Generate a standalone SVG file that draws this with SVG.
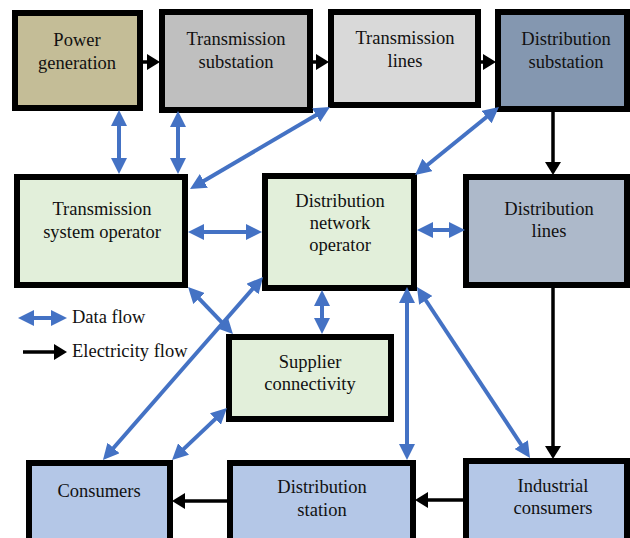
<svg xmlns="http://www.w3.org/2000/svg" width="630" height="538" viewBox="0 0 630 538">
<style>
.box{stroke:#000;stroke-width:6}
.t{font-family:"Liberation Serif","Times New Roman","DejaVu Serif",serif;font-size:18.5px;fill:#111;text-anchor:middle}
.lg{font-family:"Liberation Serif","Times New Roman","DejaVu Serif",serif;font-size:18.5px;fill:#111}
.data{stroke:#4472C4;stroke-width:4;fill:none;marker-start:url(#bh);marker-end:url(#bh)}
.elec{stroke:#000;stroke-width:3.5;fill:none;marker-end:url(#kh)}
</style>
<defs>
<marker id="bh" markerUnits="userSpaceOnUse" markerWidth="16" markerHeight="16" viewBox="0 0 16 16" refX="10" refY="8" orient="auto-start-reverse">
<path d="M0,0 L16,8 L0,16 z" fill="#4472C4"/>
</marker>
<marker id="kh" markerUnits="userSpaceOnUse" markerWidth="13" markerHeight="16" viewBox="0 0 13 16" refX="8" refY="8" orient="auto">
<path d="M0,0 L13,8 L0,16 z" fill="#000"/>
</marker>
</defs>
<rect width="630" height="538" fill="#fff"/>
<g id="power-generation"><rect class="box" x="15" y="13" width="125" height="95" fill="#C4BD97"/><text class="t" x="77" y="46">Power</text><text class="t" x="77" y="69">generation</text></g>
<g id="transmission-substation"><rect class="box" x="162" y="12" width="148" height="98" fill="#BFBFBF"/><text class="t" x="236" y="45">Transmission</text><text class="t" x="236" y="68">substation</text></g>
<g id="transmission-lines"><rect class="box" x="331" y="12" width="147" height="93" fill="#D9D9D9"/><text class="t" x="405" y="44">Transmission</text><text class="t" x="405" y="67">lines</text></g>
<g id="distribution-substation"><rect class="box" x="498" y="12" width="129" height="97" fill="#8497B0"/><text class="t" x="566" y="45">Distribution</text><text class="t" x="566" y="68">substation</text></g>
<g id="tso"><rect class="box" x="17" y="177" width="168" height="108" fill="#E2EFDA"/><text class="t" x="102" y="215">Transmission</text><text class="t" x="102" y="238">system operator</text></g>
<g id="dno"><rect class="box" x="265" y="176" width="149" height="112" fill="#E2EFDA"/><text class="t" x="340" y="207">Distribution</text><text class="t" x="340" y="229">network</text><text class="t" x="340" y="251">operator</text></g>
<g id="distribution-lines"><rect class="box" x="466" y="177" width="161" height="108" fill="#ADB9CA"/><text class="t" x="549" y="215">Distribution</text><text class="t" x="549" y="237">lines</text></g>
<g id="supplier-connectivity"><rect class="box" x="229" y="337" width="162" height="82" fill="#E2EFDA"/><text class="t" x="310" y="368">Supplier</text><text class="t" x="310" y="390">connectivity</text></g>
<g id="consumers"><rect class="box" x="29" y="463" width="141" height="85" fill="#B4C7E7"/><text class="t" x="99" y="497">Consumers</text></g>
<g id="distribution-station"><rect class="box" x="230" y="463" width="183" height="85" fill="#B4C7E7"/><text class="t" x="322" y="493">Distribution</text><text class="t" x="322" y="516">station</text></g>
<g id="industrial-consumers"><rect class="box" x="466" y="461" width="161" height="87" fill="#B4C7E7"/><text class="t" x="553" y="492">Industrial</text><text class="t" x="553" y="514">consumers</text></g>
<g id="connectors">
<line class="data" x1="119" y1="116" x2="119" y2="168"/>
<line class="data" x1="178" y1="117" x2="178" y2="168"/>
<line class="data" x1="324.8" y1="110" x2="195.2" y2="186"/>
<line class="data" x1="494.3" y1="110.8" x2="419.7" y2="171.2"/>
<line class="data" x1="194" y1="232" x2="256" y2="232"/>
<line class="data" x1="423" y1="230" x2="459" y2="230"/>
<line class="data" x1="192.2" y1="291.3" x2="228.8" y2="329.7"/>
<line class="data" x1="259.1" y1="281.5" x2="106.9" y2="455.5"/>
<line class="data" x1="322" y1="296" x2="322" y2="328"/>
<line class="data" x1="222.6" y1="412.1" x2="176.4" y2="455.9"/>
<line class="data" x1="407" y1="293" x2="407" y2="454"/>
<line class="data" x1="420.3" y1="292" x2="526.7" y2="453"/>
<line class="elec" x1="143" y1="62" x2="155" y2="62"/>
<line class="elec" x1="313" y1="62" x2="324" y2="62"/>
<line class="elec" x1="481" y1="62" x2="491" y2="62"/>
<line class="elec" x1="553" y1="112" x2="553" y2="170"/>
<line class="elec" x1="553" y1="288" x2="553" y2="454"/>
<line class="elec" x1="463" y1="500" x2="420" y2="500"/>
<line class="elec" x1="227" y1="501" x2="177" y2="501"/>
</g>
<g id="legend">
<line class="data" x1="24" y1="318" x2="61" y2="318"/>
<text class="lg" x="72" y="323">Data flow</text>
<line class="elec" x1="23" y1="352" x2="62" y2="352"/>
<text class="lg" x="72" y="357">Electricity flow</text>
</g>
</svg>
